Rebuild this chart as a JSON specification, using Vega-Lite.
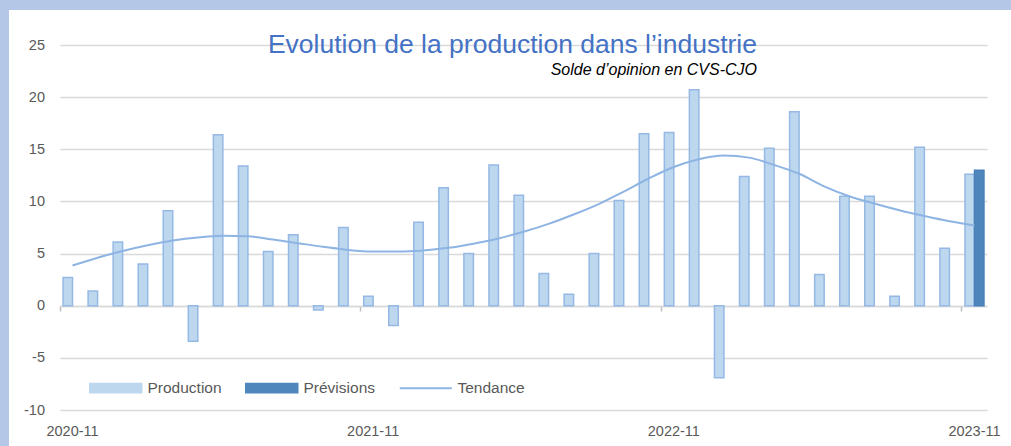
{
  "$schema": "https://vega.github.io/schema/vega-lite/v6.json",
  "width": 1002,
  "height": 436,
  "autosize": {"type": "none"},
  "padding": {"left": 9, "top": 10, "right": 0, "bottom": 0},
  "background": "#b4c7e7",
  "config": {
    "view": {"fill": "white", "stroke": null},
    "font": "Liberation Sans"
  },
  "title": {
    "text": "Evolution de la production dans l’industrie",
    "subtitle": "Solde d’opinion en CVS-CJO",
    "anchor": "end",
    "frame": "group",
    "orient": "top",
    "offset": -68,
    "dx": -254,
    "font": "Liberation Sans",
    "fontSize": 26.5,
    "fontWeight": "normal",
    "color": "#4472c4",
    "subtitleFont": "Liberation Sans",
    "subtitleFontSize": 16,
    "subtitleFontStyle": "italic",
    "subtitleColor": "#000000",
    "subtitlePadding": 4
  },
  "data": {
    "values": [
      {"mois": "2020-11", "serie": "Production", "valeur": 2.7},
      {"mois": "2020-12", "serie": "Production", "valeur": 1.4},
      {"mois": "2021-01", "serie": "Production", "valeur": 6.1},
      {"mois": "2021-02", "serie": "Production", "valeur": 4.0},
      {"mois": "2021-03", "serie": "Production", "valeur": 9.1},
      {"mois": "2021-04", "serie": "Production", "valeur": -3.4},
      {"mois": "2021-05", "serie": "Production", "valeur": 16.4},
      {"mois": "2021-06", "serie": "Production", "valeur": 13.4},
      {"mois": "2021-07", "serie": "Production", "valeur": 5.2},
      {"mois": "2021-08", "serie": "Production", "valeur": 6.8},
      {"mois": "2021-09", "serie": "Production", "valeur": -0.4},
      {"mois": "2021-10", "serie": "Production", "valeur": 7.5},
      {"mois": "2021-11", "serie": "Production", "valeur": 0.9},
      {"mois": "2021-12", "serie": "Production", "valeur": -1.9},
      {"mois": "2022-01", "serie": "Production", "valeur": 8.0},
      {"mois": "2022-02", "serie": "Production", "valeur": 11.3},
      {"mois": "2022-03", "serie": "Production", "valeur": 5.0},
      {"mois": "2022-04", "serie": "Production", "valeur": 13.5},
      {"mois": "2022-05", "serie": "Production", "valeur": 10.6},
      {"mois": "2022-06", "serie": "Production", "valeur": 3.1},
      {"mois": "2022-07", "serie": "Production", "valeur": 1.1},
      {"mois": "2022-08", "serie": "Production", "valeur": 5.0},
      {"mois": "2022-09", "serie": "Production", "valeur": 10.1},
      {"mois": "2022-10", "serie": "Production", "valeur": 16.5},
      {"mois": "2022-11", "serie": "Production", "valeur": 16.6},
      {"mois": "2022-12", "serie": "Production", "valeur": 20.7},
      {"mois": "2023-01", "serie": "Production", "valeur": -6.9},
      {"mois": "2023-02", "serie": "Production", "valeur": 12.4},
      {"mois": "2023-03", "serie": "Production", "valeur": 15.1},
      {"mois": "2023-04", "serie": "Production", "valeur": 18.6},
      {"mois": "2023-05", "serie": "Production", "valeur": 3.0},
      {"mois": "2023-06", "serie": "Production", "valeur": 10.5},
      {"mois": "2023-07", "serie": "Production", "valeur": 10.5},
      {"mois": "2023-08", "serie": "Production", "valeur": 0.9},
      {"mois": "2023-09", "serie": "Production", "valeur": 15.2},
      {"mois": "2023-10", "serie": "Production", "valeur": 5.5},
      {"mois": "2023-11", "serie": "Production", "valeur": 12.6},
      {"mois": "2023-11", "serie": "Prévisions", "valeur": 13.0},
      {"mois": "2020-11", "serie": "Tendance", "valeur": 3.85},
      {"mois": "2020-12", "serie": "Tendance", "valeur": 4.6},
      {"mois": "2021-01", "serie": "Tendance", "valeur": 5.25},
      {"mois": "2021-02", "serie": "Tendance", "valeur": 5.8},
      {"mois": "2021-03", "serie": "Tendance", "valeur": 6.25},
      {"mois": "2021-04", "serie": "Tendance", "valeur": 6.55},
      {"mois": "2021-05", "serie": "Tendance", "valeur": 6.7},
      {"mois": "2021-06", "serie": "Tendance", "valeur": 6.65},
      {"mois": "2021-07", "serie": "Tendance", "valeur": 6.35},
      {"mois": "2021-08", "serie": "Tendance", "valeur": 6.0},
      {"mois": "2021-09", "serie": "Tendance", "valeur": 5.65},
      {"mois": "2021-10", "serie": "Tendance", "valeur": 5.35},
      {"mois": "2021-11", "serie": "Tendance", "valeur": 5.2},
      {"mois": "2021-12", "serie": "Tendance", "valeur": 5.2},
      {"mois": "2022-01", "serie": "Tendance", "valeur": 5.3},
      {"mois": "2022-02", "serie": "Tendance", "valeur": 5.55},
      {"mois": "2022-03", "serie": "Tendance", "valeur": 5.95},
      {"mois": "2022-04", "serie": "Tendance", "valeur": 6.45},
      {"mois": "2022-05", "serie": "Tendance", "valeur": 7.1},
      {"mois": "2022-06", "serie": "Tendance", "valeur": 7.85},
      {"mois": "2022-07", "serie": "Tendance", "valeur": 8.75},
      {"mois": "2022-08", "serie": "Tendance", "valeur": 9.75},
      {"mois": "2022-09", "serie": "Tendance", "valeur": 10.95},
      {"mois": "2022-10", "serie": "Tendance", "valeur": 12.2},
      {"mois": "2022-11", "serie": "Tendance", "valeur": 13.3},
      {"mois": "2022-12", "serie": "Tendance", "valeur": 14.05},
      {"mois": "2023-01", "serie": "Tendance", "valeur": 14.4},
      {"mois": "2023-02", "serie": "Tendance", "valeur": 14.2},
      {"mois": "2023-03", "serie": "Tendance", "valeur": 13.5},
      {"mois": "2023-04", "serie": "Tendance", "valeur": 12.65},
      {"mois": "2023-05", "serie": "Tendance", "valeur": 11.45},
      {"mois": "2023-06", "serie": "Tendance", "valeur": 10.5},
      {"mois": "2023-07", "serie": "Tendance", "valeur": 9.8},
      {"mois": "2023-08", "serie": "Tendance", "valeur": 9.15},
      {"mois": "2023-09", "serie": "Tendance", "valeur": 8.6},
      {"mois": "2023-10", "serie": "Tendance", "valeur": 8.1},
      {"mois": "2023-11", "serie": "Tendance", "valeur": 7.7}
    ]
  },
  "encoding": {
    "x": {
      "field": "mois",
      "type": "ordinal",
      "scale": {"range": [51, 978], "paddingInner": 0, "paddingOuter": 0},
      "axis": {
        "values": ["2020-11", "2021-11", "2022-11", "2023-11"],
        "offset": -140,
        "bandPosition": 0,
        "domain": true,
        "domainColor": "#d9d9d9",
        "domainWidth": 1.5,
        "ticks": true,
        "tickColor": "#bfbfbf",
        "tickSize": 5,
        "tickWidth": 1.5,
        "labelPadding": 113,
        "labelAngle": 0,
        "labelFont": "Liberation Sans",
        "labelFontSize": 14.5,
        "labelColor": "#595959",
        "grid": false,
        "title": null
      }
    },
    "y": {
      "field": "valeur",
      "type": "quantitative",
      "scale": {"domain": [-10, 25], "range": [400, 35], "nice": false, "zero": false},
      "axis": {
        "values": [-10, -5, 0, 5, 10, 15, 20, 25],
        "labelExpr": "'' + datum.value",
        "offset": -51,
        "domain": false,
        "ticks": false,
        "grid": true,
        "gridColor": "#d9d9d9",
        "gridWidth": 1.5,
        "labelPadding": 15.5,
        "labelFont": "Liberation Sans",
        "labelFontSize": 14.5,
        "labelColor": "#595959",
        "title": null
      }
    }
  },
  "layer": [
    {
      "transform": [{"filter": "datum.serie !== 'Tendance'"}],
      "mark": {"type": "bar", "strokeWidth": 1.5},
      "encoding": {
        "xOffset": {
          "field": "serie",
          "type": "nominal",
          "scale": {"domain": ["Production", "Prévisions"], "paddingInner": 0, "paddingOuter": 0.32}
        },
        "color": {
          "field": "serie",
          "type": "nominal",
          "scale": {"domain": ["Production", "Prévisions", "Tendance"], "range": ["#bdd7ee", "#4f86bc", "#8eb4e3"]},
          "legend": {
            "orient": "none",
            "legendX": 99,
            "legendY": 370,
            "direction": "horizontal",
            "title": null,
            "labelFont": "Liberation Sans",
            "labelFontSize": 15.5,
            "labelColor": "#595959",
            "labelOffset": 24,
            "columnPadding": 20,
            "encode": {
              "symbols": {
                "update": {
                  "shape": {"signal": "datum.value === 'Tendance' ? 'M-1,0L1,0' : 'M-1,-0.18L1,-0.18L1,0.18L-1,0.18Z'"},
                  "size": {"value": 2704},
                  "fill": {"signal": "datum.value === 'Tendance' ? 'transparent' : datum.value === 'Production' ? '#bdd7ee' : '#4f86bc'"},
                  "stroke": {"signal": "datum.value === 'Tendance' ? '#8eb4e3' : datum.value === 'Production' ? '#95b9e4' : '#4f86bc'"},
                  "strokeWidth": {"signal": "datum.value === 'Tendance' ? 2 : 1.5"},
                  "opacity": {"value": 1}
                }
              }
            }
          }
        },
        "stroke": {
          "field": "serie",
          "type": "nominal",
          "scale": {"domain": ["Production", "Prévisions"], "range": ["#95b9e4", "#4a80b8"]},
          "legend": null
        }
      }
    },
    {
      "transform": [{"filter": "datum.serie === 'Tendance'"}],
      "mark": {"type": "line", "strokeWidth": 2, "interpolate": "monotone"},
      "encoding": {
        "color": {"field": "serie", "type": "nominal"}
      }
    }
  ]
}
